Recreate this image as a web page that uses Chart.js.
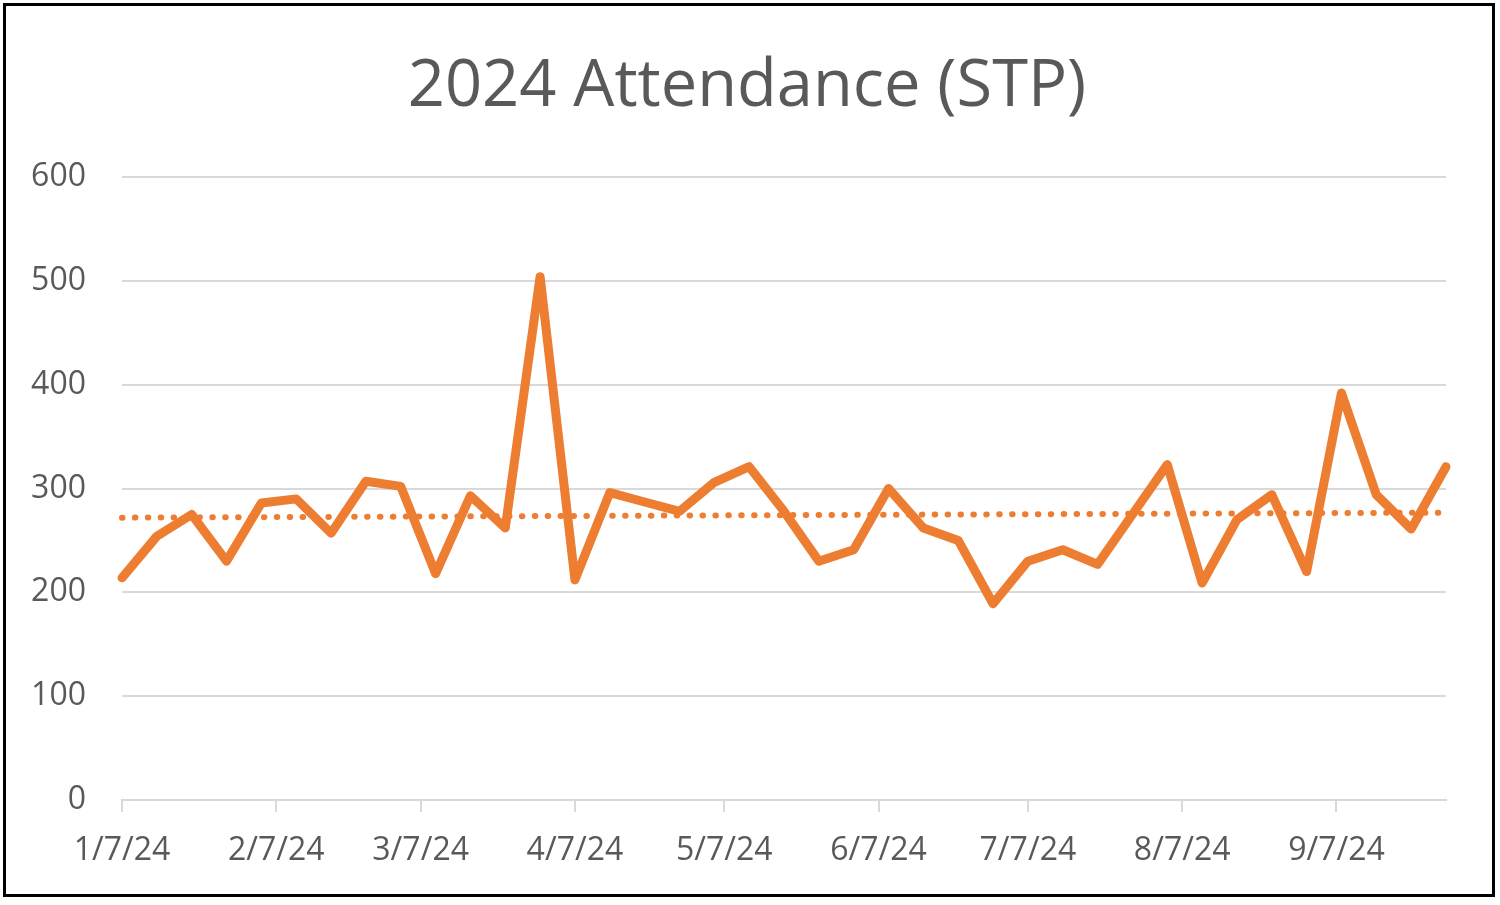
<!DOCTYPE html>
<html>
<head>
<meta charset="utf-8">
<title>2024 Attendance (STP)</title>
<script src="https://cdn.jsdelivr.net/npm/chart.js@4.4.1/dist/chart.umd.min.js"></script>
<style>
  html, body { margin: 0; padding: 0; background: #fff; }
  #wrap { position: relative; width: 1500px; height: 905px; }
  #frame { position: absolute; left: 3px; top: 3px; width: 1486px; height: 888px; border: 3px solid #000; pointer-events: none; }
  canvas { position: absolute; left: 0; top: 0; }
</style>
</head>
<body>
<div id="wrap">
  <canvas id="attendance" width="1500" height="905"></canvas>
  <div id="frame"></div>
</div>
<script>
// weekly dates (Sundays)
const weeks = [
  '1/7/24', '1/14/24', '1/21/24', '1/28/24',
  '2/4/24', '2/11/24', '2/18/24', '2/25/24',
  '3/3/24', '3/10/24', '3/17/24', '3/24/24', '3/31/24',
  '4/7/24', '4/14/24', '4/21/24', '4/28/24',
  '5/5/24', '5/12/24', '5/19/24', '5/26/24',
  '6/2/24', '6/9/24', '6/16/24', '6/23/24', '6/30/24',
  '7/7/24', '7/14/24', '7/21/24', '7/28/24',
  '8/4/24', '8/11/24', '8/18/24', '8/25/24',
  '9/1/24', '9/8/24', '9/15/24', '9/22/24', '9/29/24'
];

const attendance = [
  214, 254, 275, 230,
  286, 290, 257, 307,
  302, 218, 293, 262, 504,
  212, 296, 287, 278,
  306, 321, 278, 230,
  241, 300, 262, 250, 189,
  230, 241, 227, 275,
  323, 209, 270, 294,
  220, 392, 294, 261, 321
];

const tickLabels = ['1/7/24', '2/7/24', '3/7/24', '4/7/24', '5/7/24', '6/7/24', '7/7/24', '8/7/24', '9/7/24'];

const ORANGE = '#ED7D31';
const GRID = '#D9D9D9';
const TEXT = '#595959';

// days since 1/7/24
function dayOf(s) {
  const [m, d, y] = s.split('/').map(Number);
  return Math.round((Date.UTC(2000 + y, m - 1, d) - Date.UTC(2024, 0, 7)) / 86400000);
}

const xs = weeks.map(dayOf);
const points = xs.map((x, i) => ({ x: x, y: attendance[i] }));
const tickDays = tickLabels.map(dayOf);
const lastDay = xs[xs.length - 1];

// linear trendline (least squares) from the series
const n = xs.length;
const mx = xs.reduce((a, b) => a + b, 0) / n;
const my = attendance.reduce((a, b) => a + b, 0) / n;
let sxy = 0, sxx = 0;
xs.forEach((x, i) => { sxy += (x - mx) * (attendance[i] - my); sxx += (x - mx) * (x - mx); });
const slope = sxy / sxx;
const icept = my - slope * mx;
const trend = [{ x: 0, y: icept }, { x: lastDay, y: icept + slope * lastDay }];

Chart.defaults.font.family = '"Open Sans", sans-serif';
Chart.defaults.color = TEXT;

new Chart(document.getElementById('attendance').getContext('2d'), {
  type: 'line',
  data: {
    datasets: [{
      label: 'Attendance',
      data: points,
      borderColor: ORANGE,
      borderWidth: 9,
      borderCapStyle: 'round',
      borderJoinStyle: 'round',
      pointRadius: 0,
      tension: 0,
      clip: false
    }, {
      label: 'Linear (Attendance)',
      data: trend,
      borderColor: ORANGE,
      borderWidth: 6,
      borderDash: [0.5, 12.4],
      borderCapStyle: 'round',
      pointRadius: 0,
      clip: false
    }]
  },
  options: {
    responsive: false,
    devicePixelRatio: 1,
    animation: false,
    layout: { padding: { left: 0, right: 6, top: 0, bottom: 0 } },
    plugins: {
      legend: { display: false },
      tooltip: { enabled: false },
      title: {
        display: true,
        text: '2024 Attendance (STP)',
        color: TEXT,
        font: { size: 65, weight: 'normal', lineHeight: 1.2 },
        padding: { top: 48, bottom: 51 }
      }
    },
    scales: {
      x: {
        type: 'linear',
        min: 0,
        max: lastDay,
        afterBuildTicks: (scale) => { scale.ticks = tickDays.map(v => ({ value: v })); },
        afterFit: (scale) => { scale.height = 105; },
        grid: { drawOnChartArea: false, drawTicks: true, tickLength: 12, color: GRID, lineWidth: 2 },
        border: { display: true, color: GRID, width: 2 },
        ticks: {
          autoSkip: false,
          maxRotation: 0,
          padding: 20,
          font: { size: 32 },
          callback: (v) => tickLabels[tickDays.indexOf(v)]
        }
      },
      y: {
        min: 0,
        max: 600,
        afterFit: (scale) => { scale.width = 122; },
        grid: { color: GRID, lineWidth: 2, drawTicks: false },
        border: { display: false },
        ticks: { stepSize: 100, padding: 36, font: { size: 32 } }
      },
      // empty right-hand margin so the title centres on the whole frame
      margin: {
        position: 'right',
        afterFit: (scale) => { scale.width = 48; },
        grid: { display: false },
        border: { display: false },
        ticks: { display: false }
      }
    }
  }
});
</script>
</body>
</html>
